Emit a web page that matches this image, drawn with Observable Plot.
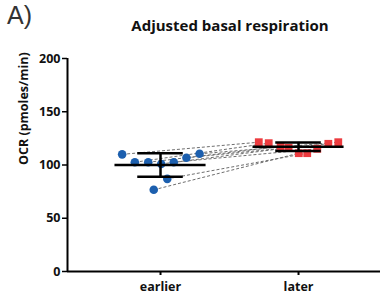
<!DOCTYPE html>
<html>
<head>
<meta charset="utf-8">
<script src="https://cdn.jsdelivr.net/npm/d3@7"></script>
<script src="https://cdn.jsdelivr.net/npm/@observablehq/plot@0.6"></script>
<style>
  body { margin: 0; background: #fff; }
  #wrap { position: relative; width: 389px; height: 301px; overflow: hidden; }
  #panel { position: absolute; left: 7px; top: 1px; font: 400 25px "Liberation Sans", Arial, sans-serif; color: #333; }
  #title { position: absolute; left: 120px; width: 220px; top: 15px; text-align: center; font: 700 15px "Open Sans", sans-serif; color: #111; white-space: nowrap; }
</style>
</head>
<body>
<div id="wrap">
  <div id="chart"></div>
  <div id="panel">A)</div>
  <div id="title">Adjusted basal respiration</div>
</div>
<script>
// Groups and tick labels
const groups = ["earlier", "later"];
const groupPos = [1, 2];
const yTicks = [0, 50, 100, 150, 200];
const xDomain = [0.326, 2.594];

// Earlier values (blue circles) and horizontal scatter offsets
const earlierValues  = [110, 102.6, 102.6, 101, 102.6, 106.8, 110.5, 87, 76.7];
const earlierOffsets = [-0.278, -0.186, -0.089, 0.005, 0.096, 0.188, 0.283, 0.049, -0.049];

// Later values (red squares) and horizontal scatter offsets
const laterValues  = [121.4, 120.5, 117.4, 116.2, 111.1, 111.1, 115.2, 119.9, 121.4];
const laterOffsets = [-0.288, -0.216, -0.13, -0.072, 0.002, 0.063, 0.136, 0.216, 0.288];

// Pairing of earlier point i with later point pairIndex[i]
const pairIndex = [0, 1, 2, 3, 6, 7, 8, 5, 4];

const earlier = earlierValues.map((v, i) => ({x: groupPos[0] + earlierOffsets[i], y: v}));
const later = laterValues.map((v, i) => ({x: groupPos[1] + laterOffsets[i], y: v}));
const links = earlier.map((d, i) => ({x1: d.x, y1: d.y, x2: later[pairIndex[i]].x, y2: later[pairIndex[i]].y}));

const stats = [earlierValues, laterValues].map((vals, i) => {
  const m = d3.mean(vals), s = d3.deviation(vals);
  return {x: groupPos[i], mean: m, lo: m - s, hi: m + s};
});
const meanHalf = 0.33, capHalf = 0.165;
const font = "'Open Sans', sans-serif";

const chart = Plot.plot({
  width: 389,
  height: 301,
  marginLeft: 67,
  marginRight: 9,
  marginTop: 58,
  marginBottom: 30,
  style: {fontFamily: font, fontSize: "12.5px", color: "#111", background: "white"},
  x: {type: "linear", domain: xDomain, axis: null},
  y: {domain: [0, 200], axis: null},
  marks: [
    Plot.link(links, {x1: "x1", y1: "y1", x2: "x2", y2: "y2", stroke: "#6e6e6e", strokeWidth: 1, strokeDasharray: "3,2"}),
    Plot.dot(earlier, {x: "x", y: "y", r: 4.3, fill: "#1c5fae", stroke: "none"}),
    Plot.dot(later, {x: "x", y: "y", r: 4.4, symbol: "square", fill: "#ec3b3f", stroke: "none"}),
    Plot.ruleY(stats, {x1: d => d.x - meanHalf, x2: d => d.x + meanHalf, y: "mean", stroke: "#000", strokeWidth: 2.5}),
    Plot.ruleY(stats, {x1: d => d.x - capHalf, x2: d => d.x + capHalf, y: "hi", stroke: "#000", strokeWidth: 2.5}),
    Plot.ruleY(stats, {x1: d => d.x - capHalf, x2: d => d.x + capHalf, y: "lo", stroke: "#000", strokeWidth: 2.5}),
    Plot.ruleX(stats, {x: "x", y1: "lo", y2: "hi", stroke: "#000", strokeWidth: 2.5}),
    // axes
    Plot.ruleX([xDomain[0]], {y1: 0, y2: 200, stroke: "#000", strokeWidth: 2}),
    Plot.ruleY([0], {stroke: "#000", strokeWidth: 2}),
    Plot.axisY({ticks: yTicks, tickSize: 5, tickPadding: 2, fontWeight: "bold", fontSize: 12.5, stroke: "#000", strokeWidth: 1.5, label: null}),
    Plot.axisX({ticks: groupPos, tickFormat: (d) => groups[groupPos.indexOf(d)], tickSize: 4, tickPadding: 7, fontWeight: "bold", fontSize: 12.5, stroke: "#000", strokeWidth: 2, label: null}),
    Plot.text(["OCR (pmoles/min)"], {frameAnchor: "left", dx: -44, rotate: -90, fontWeight: "bold", fontSize: 12.5, fill: "#111"})
  ]
});
document.getElementById("chart").appendChild(chart);
</script>
</body>
</html>
